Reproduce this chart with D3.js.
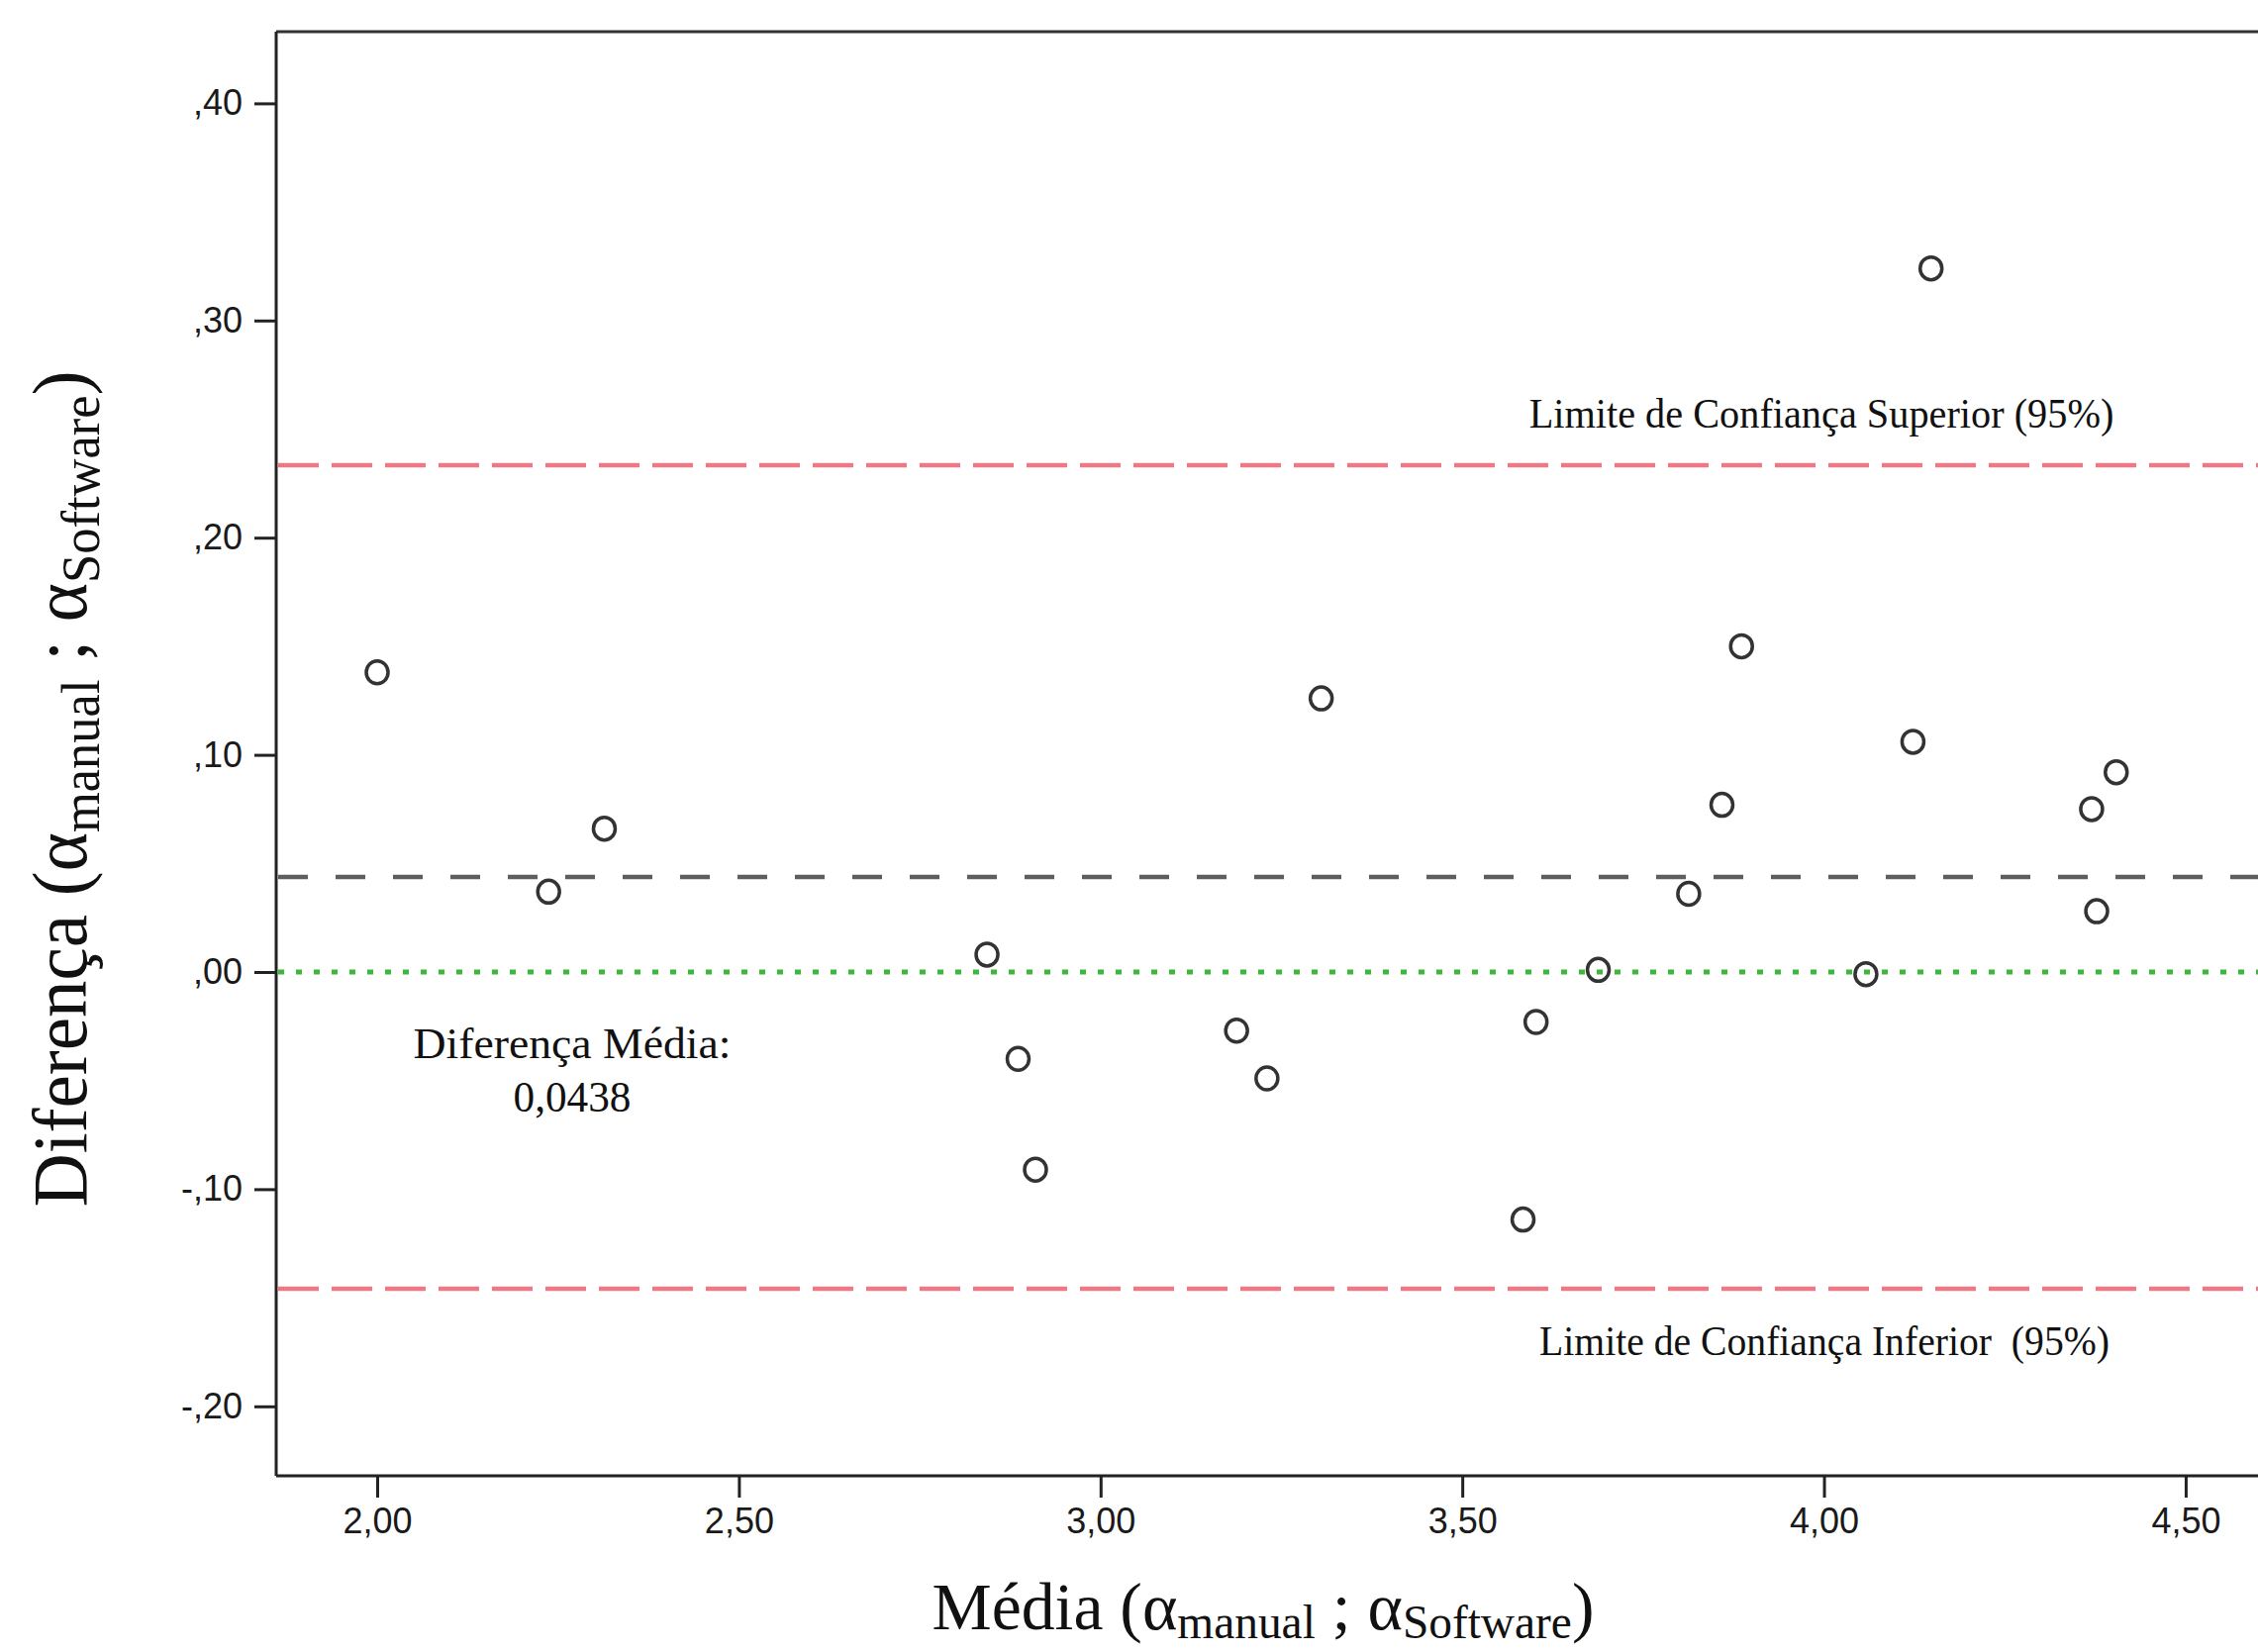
<!DOCTYPE html>
<html lang="pt">
<head>
<meta charset="utf-8">
<title>Bland-Altman: Diferença vs Média</title>
<script src="https://cdn.jsdelivr.net/npm/d3@7"></script>
<style>
  html, body { margin: 0; padding: 0; background: #fff; overflow: hidden; }
  #chart svg { display: block; }
  .tick text { font-family: "Liberation Sans", Arial, sans-serif; fill: #1a1a1a; }
  .serif { font-family: "Liberation Serif", "Times New Roman", serif; fill: #111; }
</style>
</head>
<body>
<div id="chart"></div>
<script>
// data

// x: média (α manual ; α software), y: diferença
const mediaValues = [2.000, 2.237, 2.314, 2.843, 2.886, 2.910, 3.188, 3.230, 3.305,
                     3.584, 3.602, 3.688, 3.813, 3.859, 3.886, 4.058, 4.123, 4.148,
                     4.370, 4.377, 4.404];
const diffValues  = [0.138, 0.037, 0.066, 0.008, -0.040, -0.091, -0.027, -0.049, 0.126,
                     -0.114, -0.023, 0.001, 0.036, 0.077, 0.150, -0.001, 0.106, 0.324,
                     0.075, 0.028, 0.092];

const meanDiff   = 0.0438;
const upperLimit = 0.2334;
const lowerLimit = -0.1458;
const zeroLine   = 0;

const xTicks = [2.0, 2.5, 3.0, 3.5, 4.0, 4.5];
const yTicks = [-0.2, -0.1, 0.0, 0.1, 0.2, 0.3, 0.4];

const upperLabel = 'Limite de Confiança Superior (95%)';
const lowerLabel = 'Limite de Confiança Inferior\u00a0\u00a0(95%)';
const meanLabel  = ['Diferença Média:', '0,0438'];

const Chart = (() => {

  const W = 2281, H = 1669;
  // plot frame runs off the right edge, like the cropped original
  const left = 279, right = 2300, top = 32, bottom = 1491;

  const x = d3.scaleLinear().domain([1.8604, 4.626]).range([left, right]);
  const y = d3.scaleLinear().domain([-0.232, 0.433]).range([bottom, top]);

  // SPSS style decimals: ",40", "-,10", "2,00" (plain hyphen, not the unicode minus)
  const fmtY = d => d3.format('.2f')(d).replace('\u2212', '-').replace('0.', ',');
  const fmtX = d => d3.format('.2f')(d).replace('.', ',');

  /**
   * squeezes a text element along its own direction so it fills `width`
   */
  function fitWidth(textSel, width, transformPrefix) {
    const w = textSel.node().getBBox().width;
    const s = width / w;
    textSel.attr('transform', `${transformPrefix} scale(${s},1)`);
  }

  /**
   * axis title with subscripts: main (α_sub1 ; α_sub2)
   */
  function axisTitle(g, main, size, dropRatio) {
    const t = g.append('text')
      .attr('class', 'serif')
      .attr('text-anchor', 'middle')
      .attr('font-size', size)
      .attr('x', 0).attr('y', 0);
    const sub = size * 0.7, drop = size * dropRatio;
    t.append('tspan').text(main + ' (α');
    t.append('tspan').attr('font-size', sub).attr('dy', drop).text('manual');
    t.append('tspan').attr('dy', -drop).text(' ; α');
    t.append('tspan').attr('font-size', sub).attr('dy', drop).text('Software');
    t.append('tspan').attr('dy', -drop).text(')');
    return t;
  }

  function draw() {
    const svg = d3.select('#chart').append('svg')
      .attr('width', W).attr('height', H);

    svg.append('rect').attr('width', W).attr('height', H).attr('fill', '#fff');

    // reference lines
    const refLines = [
      { v: upperLimit, color: '#ec7a86', dash: '41 13', w: 4.5 },
      { v: lowerLimit, color: '#ec7a86', dash: '41 13', w: 4.5 },
      { v: meanDiff,   color: '#5e5e5e', dash: '30 28', w: 4.5 },
      { v: zeroLine,   color: '#3cb93c', dash: '6 12',  w: 5 }
    ];
    svg.append('g').selectAll('line')
      .data(refLines)
      .enter()
      .append('line')
      .attr('x1', left + 2).attr('x2', right)
      .attr('y1', d => y(d.v)).attr('y2', d => y(d.v))
      .attr('stroke', d => d.color)
      .attr('stroke-width', d => d.w)
      .attr('stroke-dasharray', d => d.dash);

    // frame: top edge (right edge is off screen)
    svg.append('line')
      .attr('x1', left).attr('x2', right)
      .attr('y1', top).attr('y2', top)
      .attr('stroke', '#333').attr('stroke-width', 3);

    // axes
    const yAxis = d3.axisLeft(y).tickValues(yTicks).tickFormat(fmtY)
      .tickSize(22).tickPadding(12);
    const xAxis = d3.axisBottom(x).tickValues(xTicks).tickFormat(fmtX)
      .tickSize(22).tickPadding(10);

    const gy = svg.append('g').attr('transform', `translate(${left},0)`).call(yAxis);
    const gx = svg.append('g').attr('transform', `translate(0,${bottom})`).call(xAxis);

    [gy, gx].forEach(g => {
      g.select('.domain').attr('stroke', '#222').attr('stroke-width', 3);
      g.selectAll('.tick line').attr('stroke', '#222').attr('stroke-width', 3);
      g.selectAll('.tick text').attr('font-size', 36).attr('fill', '#1a1a1a');
    });
    gy.select('.domain').attr('d', `M0,${top}V${bottom}`);
    gx.select('.domain').attr('d', `M${left},0H${right}`);

    // points
    const points = mediaValues.map((m, i) => ({ m, d: diffValues[i] }));
    svg.append('g').selectAll('ellipse')
      .data(points)
      .enter()
      .append('ellipse')
      .attr('cx', p => x(p.m))
      .attr('cy', p => y(p.d))
      .attr('rx', 11).attr('ry', 11.5)
      .attr('fill', 'none')
      .attr('stroke', '#333')
      .attr('stroke-width', 3.5);

    // annotations
    const up = svg.append('text').attr('class', 'serif')
      .attr('text-anchor', 'middle').attr('font-size', 43).text(upperLabel);
    fitWidth(up, 591, 'translate(1840,432)');

    const lo = svg.append('text').attr('class', 'serif')
      .attr('text-anchor', 'middle').attr('font-size', 43).text(lowerLabel);
    fitWidth(lo, 576, 'translate(1843,1369)');

    const m1 = svg.append('text').attr('class', 'serif')
      .attr('text-anchor', 'middle').attr('font-size', 45).text(meanLabel[0]);
    fitWidth(m1, 321, 'translate(578,1069)');
    const m2 = svg.append('text').attr('class', 'serif')
      .attr('text-anchor', 'middle').attr('font-size', 45).text(meanLabel[1]);
    fitWidth(m2, 119, 'translate(578,1123)');

    // axis titles (x title kept just inside the bottom edge)
    const xt = axisTitle(svg.append('g'), 'Média', 68, 0.13);
    fitWidth(xt, 669, 'translate(1276,1646)');

    const yt = axisTitle(svg.append('g'), 'Diferença', 78, 0.17);
    fitWidth(yt, 845, 'translate(87,797) rotate(-90)');
  }

  return { draw };
})();

document.addEventListener('DOMContentLoaded', () => Chart.draw());
</script>
</body>
</html>
